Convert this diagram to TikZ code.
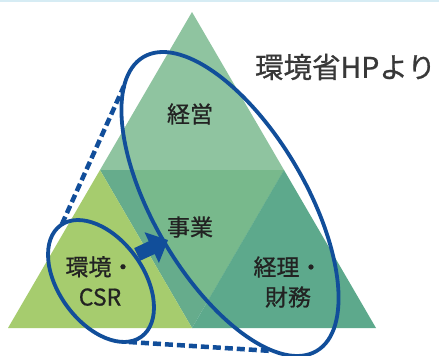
\documentclass[tikz,border=0pt]{standalone}
\usepackage{fontspec}
\newfontfamily\jp[FakeBold=0.8]{Noto Sans CJK JP}
\usetikzlibrary{calc}
\definecolor{topg}{HTML}{8FC4A0}
\definecolor{midg}{HTML}{78B98C}
\definecolor{midt}{HTML}{66AC8C}
\definecolor{leftg}{HTML}{A6CC6E}
\definecolor{rightg}{HTML}{5DA98C}
\definecolor{eblue}{HTML}{114E9A}
\definecolor{txt}{HTML}{222222}
\definecolor{ttl}{HTML}{383838}
\definecolor{topline}{HTML}{D6ECF4}
\begin{document}
\begin{tikzpicture}[x=1pt,y=-1pt,
  lbl/.style={font=\jp\fontsize{23}{30}\selectfont, text=txt, align=center, inner sep=0pt},
  ring/.style={draw=eblue, line width=3.8pt},
  dashlink/.style={draw=eblue, line width=4.5pt, dash pattern=on 8pt off 4pt},
  shiftarrow/.style={fill=eblue},
]
\useasboundingbox (0,0) rectangle (439,356);
\fill[white] (0,0) rectangle (439,356);
\draw[topline, line width=2pt] (0,1) -- (439,1);
% triangle corners
\coordinate (A) at (192,12);
\coordinate (BL) at (8,328);
\coordinate (BR) at (376,328);
\coordinate (ML) at (100,170);
\coordinate (MR) at (284,170);
\coordinate (MB) at (192,328);
\fill[topg] (A) -- (ML) -- (MR) -- cycle;
\fill[midt] (ML) -- (MR) -- (MB) -- cycle;
\begin{scope}
  \clip (ML) -- (MR) -- (MB) -- cycle;
  \fill[midg, rotate around={-59.5:(230,204)}] (230,204) ellipse [x radius=170.6pt, y radius=76pt];
\end{scope}
\fill[leftg] (BL) -- (ML) -- (MB) -- cycle;
\fill[rightg] (MB) -- (MR) -- (BR) -- cycle;
% labels
\node[lbl] (keiei) at (190,114) {経営};
\node[lbl] (jigyo) at (190,227) {事業};
\node[lbl] (kankyo) at (100,281) {環境・\\CSR};
\node[lbl] (keiri) at (288,282) {経理・\\財務};
\node[font=\jp\fontsize{28.5}{34}\selectfont, text=ttl, anchor=east, inner sep=0pt] (src) at (436,67) {環境省HPより};
% ellipses
\draw[ring, rotate around={-59.5:(230,204)}] (230,204) ellipse [x radius=170.6pt, y radius=76pt];
\draw[ring, rotate around={-54:(101,281)}] (101,281) ellipse [x radius=68.8pt, y radius=42.3pt];
% arrow
\fill[shiftarrow] (134.2,248.1) -- (148.7,241.3) -- (144.5,232.2) -- (168,240) -- (158.9,263.0) -- (154.7,254.0) -- (140.2,260.7) -- cycle;
% dashed links
\coordinate (s1) at (62,224);
\coordinate (b1) at (124,86);
\coordinate (s2) at (129,342);
\coordinate (b2) at (272,351);
\draw[dashlink] (s1) -- (b1);
\draw[dashlink] (s2) -- (b2);
\end{tikzpicture}
\end{document}
